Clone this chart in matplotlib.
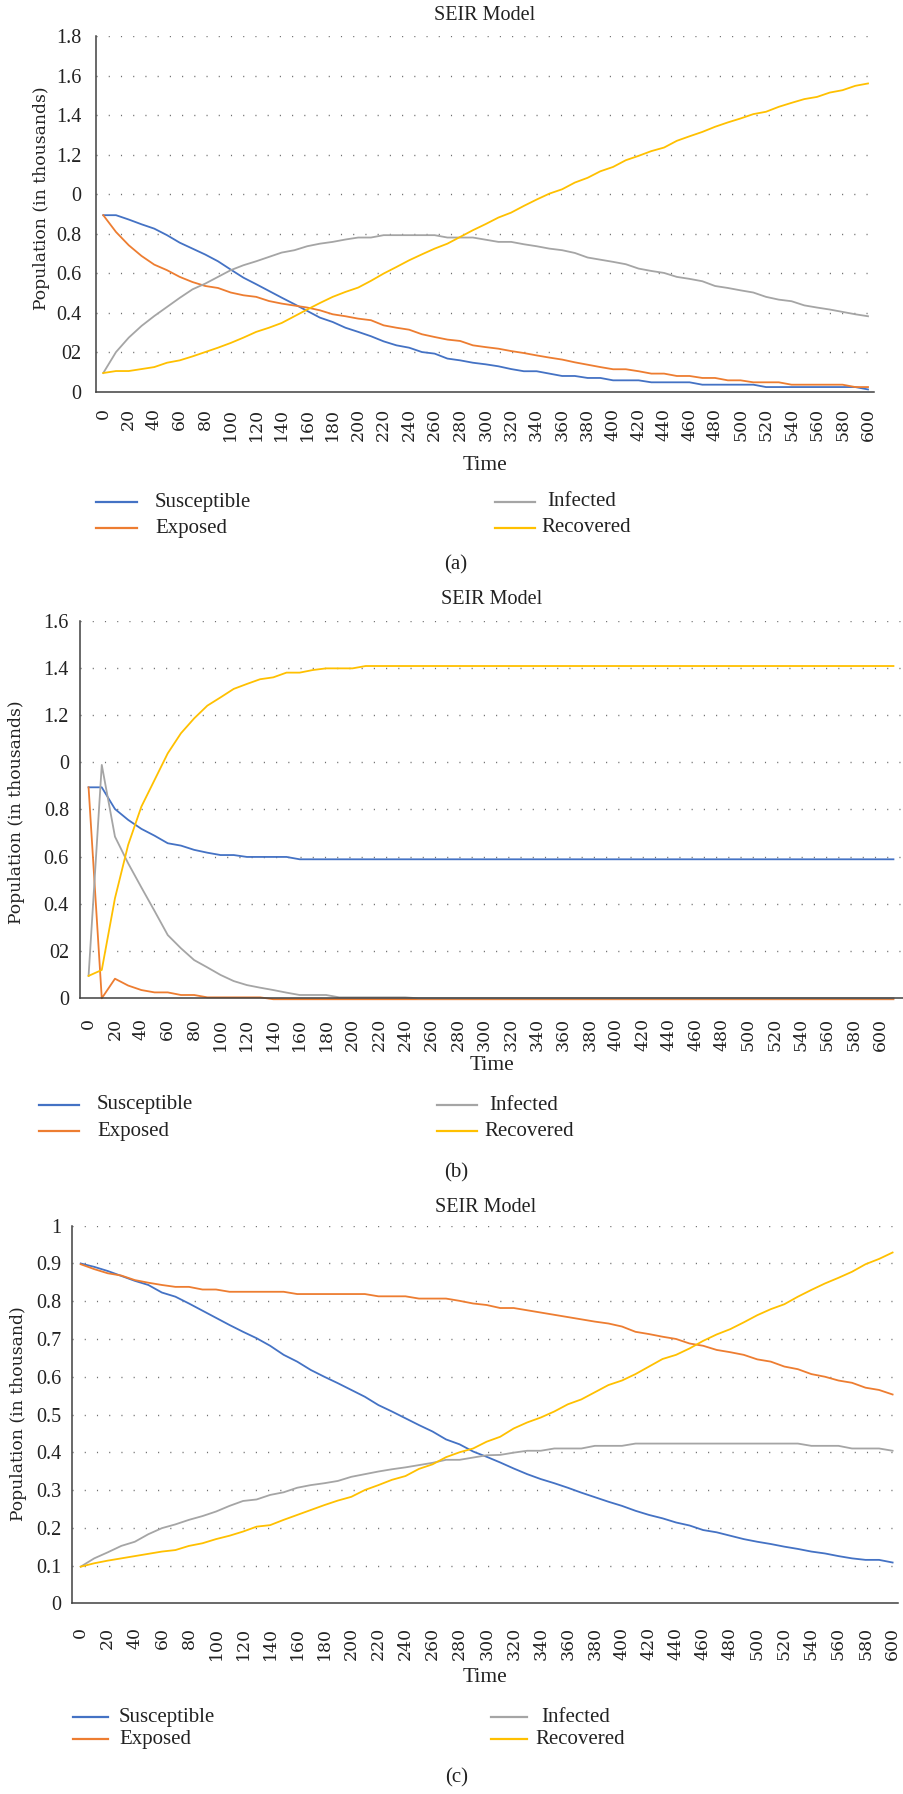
import matplotlib
matplotlib.use("Agg")
import matplotlib.pyplot as plt
from matplotlib.lines import Line2D

# ---------------- data ----------------
series_names = ["Susceptible", "Exposed", "Infected", "Recovered"]
series_colors = ["#4472C4", "#ED7D31", "#A5A5A5", "#FFC000"]

time_a = list(range(0, 610, 10))
time_b = list(range(0, 620, 10))
time_c = list(range(0, 610, 10))
xtick_values = list(range(0, 620, 20))

S_a = [0.894, 0.894, 0.872, 0.848, 0.826, 0.793, 0.755, 0.725, 0.695, 0.661,
       0.619, 0.578, 0.545, 0.511, 0.477, 0.444, 0.410, 0.376, 0.354, 0.325,
       0.304, 0.282, 0.256, 0.236, 0.224, 0.202, 0.194, 0.169, 0.160, 0.148,
       0.140, 0.130, 0.116, 0.105, 0.105, 0.093, 0.081, 0.081, 0.071, 0.071,
       0.059, 0.059, 0.059, 0.049, 0.049, 0.049, 0.049, 0.037, 0.037, 0.037,
       0.037, 0.037, 0.025, 0.025, 0.025, 0.025, 0.025, 0.025, 0.025, 0.025, 0.013]
E_a = [0.894, 0.809, 0.742, 0.688, 0.644, 0.616, 0.582, 0.556, 0.536, 0.526,
       0.503, 0.489, 0.481, 0.460, 0.447, 0.437, 0.427, 0.413, 0.393, 0.383,
       0.371, 0.363, 0.337, 0.325, 0.315, 0.292, 0.278, 0.265, 0.258, 0.236,
       0.227, 0.219, 0.207, 0.197, 0.185, 0.174, 0.164, 0.150, 0.138, 0.126,
       0.115, 0.115, 0.105, 0.093, 0.093, 0.081, 0.081, 0.071, 0.071, 0.059,
       0.059, 0.049, 0.049, 0.049, 0.037, 0.037, 0.037, 0.037, 0.037, 0.025, 0.025]
I_a = [0.096, 0.202, 0.275, 0.334, 0.384, 0.430, 0.476, 0.519, 0.548, 0.582,
       0.616, 0.641, 0.661, 0.683, 0.705, 0.717, 0.737, 0.750, 0.759, 0.771,
       0.781, 0.781, 0.793, 0.793, 0.793, 0.793, 0.793, 0.781, 0.781, 0.781,
       0.770, 0.759, 0.759, 0.747, 0.737, 0.725, 0.717, 0.703, 0.680, 0.669,
       0.658, 0.646, 0.624, 0.612, 0.602, 0.582, 0.572, 0.560, 0.536, 0.526,
       0.514, 0.503, 0.481, 0.467, 0.459, 0.438, 0.427, 0.417, 0.405, 0.393, 0.383]
R_a = [0.096, 0.106, 0.106, 0.116, 0.126, 0.148, 0.160, 0.180, 0.202, 0.224,
       0.248, 0.275, 0.304, 0.325, 0.349, 0.383, 0.417, 0.450, 0.481, 0.506,
       0.528, 0.562, 0.599, 0.632, 0.666, 0.696, 0.725, 0.750, 0.784, 0.818,
       0.849, 0.882, 0.907, 0.941, 0.973, 1.003, 1.025, 1.059, 1.083, 1.116,
       1.138, 1.172, 1.194, 1.218, 1.236, 1.270, 1.293, 1.315, 1.341, 1.363,
       1.383, 1.405, 1.417, 1.442, 1.462, 1.481, 1.492, 1.514, 1.526, 1.548, 1.560]

S_b = ([0.894, 0.894, 0.802, 0.756, 0.718, 0.689, 0.657, 0.647, 0.629, 0.617,
        0.607, 0.607, 0.599, 0.599, 0.599, 0.599, 0.589, 0.589, 0.589, 0.589]
       + [0.589] * 42)
E_b = ([0.894, 0.0, 0.083, 0.054, 0.035, 0.025, 0.025, 0.014, 0.014, 0.004,
        0.004, 0.004, 0.004, 0.004]
       + [-0.004] * 48)
I_b = ([0.095, 0.989, 0.685, 0.572, 0.470, 0.370, 0.268, 0.212, 0.162, 0.131,
        0.099, 0.073, 0.056, 0.045, 0.035, 0.024, 0.014, 0.014, 0.014, 0.004,
        0.004, 0.004, 0.004, 0.004, 0.004]
       + [0.0] * 37)
R_b = ([0.095, 0.120, 0.424, 0.650, 0.812, 0.925, 1.038, 1.123, 1.186, 1.240,
        1.275, 1.311, 1.332, 1.352, 1.360, 1.380, 1.380, 1.391, 1.398, 1.398,
        1.398, 1.408]
       + [1.408] * 40)

S_c = [0.900, 0.891, 0.880, 0.867, 0.854, 0.843, 0.823, 0.812, 0.794, 0.775,
       0.756, 0.737, 0.719, 0.702, 0.682, 0.658, 0.640, 0.618, 0.600, 0.583,
       0.565, 0.547, 0.525, 0.508, 0.490, 0.472, 0.455, 0.434, 0.421, 0.402,
       0.388, 0.373, 0.357, 0.342, 0.329, 0.318, 0.306, 0.293, 0.281, 0.269,
       0.258, 0.245, 0.234, 0.225, 0.214, 0.206, 0.194, 0.188, 0.179, 0.170,
       0.163, 0.157, 0.150, 0.144, 0.137, 0.132, 0.125, 0.119, 0.115, 0.115, 0.108]
E_c = [0.898, 0.885, 0.874, 0.868, 0.856, 0.849, 0.843, 0.838, 0.838, 0.831,
       0.831, 0.825, 0.825, 0.825, 0.825, 0.825, 0.819, 0.819, 0.819, 0.819,
       0.819, 0.819, 0.813, 0.813, 0.813, 0.807, 0.807, 0.807, 0.801, 0.794,
       0.790, 0.782, 0.782, 0.776, 0.770, 0.764, 0.758, 0.752, 0.746, 0.741,
       0.733, 0.719, 0.713, 0.706, 0.700, 0.688, 0.682, 0.671, 0.665, 0.658,
       0.646, 0.640, 0.627, 0.620, 0.607, 0.600, 0.590, 0.584, 0.571, 0.565, 0.553]
I_c = [0.097, 0.119, 0.135, 0.152, 0.163, 0.183, 0.199, 0.209, 0.221, 0.231,
       0.243, 0.258, 0.271, 0.275, 0.287, 0.294, 0.306, 0.313, 0.318, 0.324,
       0.335, 0.342, 0.349, 0.355, 0.360, 0.366, 0.372, 0.380, 0.380, 0.386,
       0.392, 0.393, 0.399, 0.404, 0.404, 0.410, 0.410, 0.410, 0.417, 0.417,
       0.417, 0.423, 0.423, 0.423, 0.423, 0.423, 0.423, 0.423, 0.423, 0.423,
       0.423, 0.423, 0.423, 0.423, 0.417, 0.417, 0.417, 0.410, 0.410, 0.410, 0.404]
R_c = [0.097, 0.106, 0.113, 0.119, 0.125, 0.131, 0.137, 0.141, 0.152, 0.159,
       0.170, 0.179, 0.190, 0.203, 0.207, 0.221, 0.234, 0.247, 0.260, 0.272,
       0.282, 0.300, 0.313, 0.327, 0.337, 0.356, 0.368, 0.387, 0.400, 0.410,
       0.428, 0.441, 0.463, 0.479, 0.492, 0.508, 0.527, 0.540, 0.559, 0.578,
       0.590, 0.607, 0.627, 0.647, 0.658, 0.675, 0.695, 0.712, 0.726, 0.744,
       0.763, 0.779, 0.792, 0.812, 0.830, 0.847, 0.862, 0.878, 0.898, 0.912, 0.929]

yticks_ab = [0, 0.2, 0.4, 0.6, 0.8, 1.0, 1.2, 1.4, 1.6, 1.8]
ylabels_a = ["0", "02", "0.4", "0.6", "0.8", "0", "1.2", "1.4", "1.6", "1.8"]
ylabels_b = ["0", "02", "0.4", "0.6", "0.8", "0", "1.2", "1.4", "1.6"]
yticks_c = [0, 0.1, 0.2, 0.3, 0.4, 0.5, 0.6, 0.7, 0.8, 0.9, 1.0]
ylabels_c = ["0", "0.1", "0.2", "0.3", "0.4", "0.5", "0.6", "0.7", "0.8", "0.9", "1"]

title_text = "SEIR Model"
xlabel_text = "Time"
ylabel_texts = ["Population (in thousands)", "Population (in thousands)",
                "Population (in thousand)"]
captions = ["(a)", "(b)", "(c)"]

# ---------------- layout ----------------
W, H = 904, 1794
fig = plt.figure(figsize=(W / 100, H / 100), dpi=100)
SERIF = "Liberation Serif"
WIDE = "DejaVu Serif"


def fx(x):
    return x / W


def fy(y):
    return 1 - y / H


panels = [
    dict(box=(96, 874, 36, 392), xlim=(-5.7, 604.7), ylim=(0, 1.8),
         yt=yticks_ab, yl=ylabels_a, t=time_a, data=[S_a, E_a, I_a, R_a],
         xpad=11.5, ypad=10.5, ylab=(42, 198), title_y=16, time_y=465,
         leg_rows=(502, 528), leg_s=(96, 137, 155), leg_i=(495, 535, 547, 541),
         cap=(456, 565)),
    dict(box=(80, 904, 620.7, 998.3), xlim=(-6.5, 618), ylim=(0, 1.6),
         yt=yticks_ab[:-1], yl=ylabels_b, t=time_b, data=[S_b, E_b, I_b, R_b],
         xpad=14.0, ypad=8, ylab=(17, 812), title_y=600, time_y=1066,
         leg_rows=(1105, 1131), leg_s=(39, 79, 97), leg_i=(437, 477, 489, 484),
         cap=(456, 1173)),
    dict(box=(72.3, 898, 1225.7, 1603.3), xlim=(-6.2, 604), ylim=(0, 1.0),
         yt=yticks_c, yl=ylabels_c, t=time_c, data=[S_c, E_c, I_c, R_c],
         xpad=17, ypad=8, ylab=(19, 1414), title_y=1207, time_y=1677,
         leg_rows=(1717, 1739), leg_s=(73, 108, 119), leg_i=(491, 527, 541, 535),
         cap=(457, 1778)),
]

for k, p in enumerate(panels):
    l, r, t, b = p["box"]
    ax = fig.add_axes([fx(l), fy(b), (r - l) / W, (b - t) / H])
    ax.set_xlim(*p["xlim"])
    ax.set_ylim(*p["ylim"])
    for spine in ["top", "right"]:
        ax.spines[spine].set_visible(False)
    for spine in ["left", "bottom"]:
        ax.spines[spine].set_color("#404040")
        ax.spines[spine].set_linewidth(1.1)
    ax.set_yticks(p["yt"])
    ax.set_yticklabels(p["yl"], fontfamily=SERIF, fontsize=14.5)
    ax.set_xticks(xtick_values)
    ax.set_xticklabels([str(v) for v in xtick_values], rotation=90,
                       fontfamily=WIDE, fontsize=12.5)
    ax.tick_params(axis="x", length=0, pad=p["xpad"], colors="#222222")
    ax.tick_params(axis="y", length=0, pad=p["ypad"], colors="#222222")
    for yv in p["yt"][1:]:
        ax.axhline(yv, color="#6f6f6f", lw=1.0, ls=(0, (0.8, 8)), zorder=0.5)
    for vals, col in zip(p["data"], series_colors):
        ax.plot(p["t"], vals, color=col, lw=1.3, zorder=2, clip_on=False,
                solid_joinstyle="round")

    cx = (l + r) / 2
    fig.text(fx(cx), fy(p["title_y"]), title_text, ha="center", va="center",
             fontfamily=SERIF, fontsize=14.5, color="#222222")
    fig.text(fx(cx), fy(p["time_y"]), xlabel_text, ha="center", va="center",
             fontfamily=SERIF, fontsize=15.5, color="#222222")
    fig.text(fx(p["ylab"][0]), fy(p["ylab"][1]), ylabel_texts[k], rotation=90,
             ha="center", va="center", fontfamily=WIDE, fontsize=12.3,
             color="#222222")

    # legend (2 columns: Susceptible / Exposed, Infected / Recovered)
    r1, r2 = p["leg_rows"]
    s0, s1, stx = p["leg_s"]
    i0, i1, itx, rtx = p["leg_i"]
    entries = [(0, r1, s0, s1, stx), (1, r2, s0, s1, stx),
               (2, r1, i0, i1, itx), (3, r2, i0, i1, rtx)]
    for idx, yy, x0, x1, xt in entries:
        fig.add_artist(Line2D([fx(x0), fx(x1)], [fy(yy), fy(yy)],
                              color=series_colors[idx], lw=1.6,
                              transform=fig.transFigure))
        fig.text(fx(xt), fy(yy), series_names[idx], ha="left", va="center",
                 fontfamily=SERIF, fontsize=15, color="#222222")

    fig.text(fx(p["cap"][0]), fy(p["cap"][1]), captions[k], ha="center",
             va="center", fontfamily=SERIF, fontsize=15, color="#222222")

fig.savefig("out.png", dpi=100)
